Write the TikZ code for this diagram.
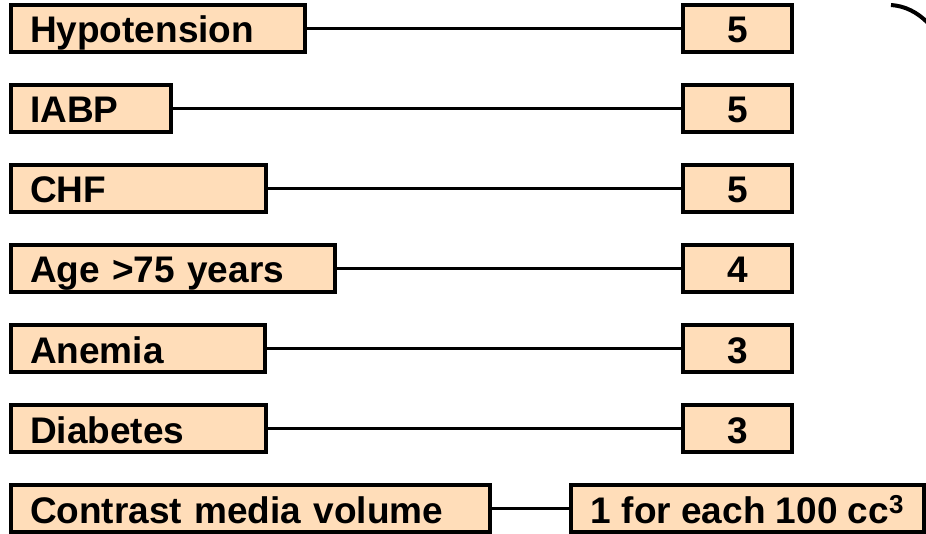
\documentclass[tikz,border=0pt]{standalone}
\usepackage{fontspec}
\setmainfont{Liberation Sans}
\usetikzlibrary{positioning}
\definecolor{npeach}{HTML}{FFDDB9}

\tikzset{
  factor/.style={draw=black, line width=4pt, fill=npeach, anchor=north west,
    inner xsep=19pt, inner ysep=0pt, minimum height=47pt, align=left,
    text height=29pt, text depth=0pt, font=\bfseries\fontsize{37}{40}\selectfont},
  score/.style={factor, align=center, inner xsep=0pt, minimum width=109pt},
  link/.style={line width=3.5pt}
}

\begin{document}
\begin{tikzpicture}[x=1pt,y=-1pt]
 \useasboundingbox (0,0) rectangle (926,534);
 % risk factors and their points
 \foreach \lab/\w/\pts [count=\i from 0] in {Hypotension/256/5, IABP/122/5, CHF/217/5,
   Age >75 years/286/4, Anemia/216/3, Diabetes/217/3}{
   \node[factor, text width=\w pt] (f\i) at (9,3+80*\i) {\lab};
   \node[score] (s\i) at (681,3+80*\i) {\pts};
   \draw[link] (f\i) -- (s\i);
 }
 \node[factor, text width=441pt] (f6) at (9,483) {Contrast media volume};
 \node[score, minimum width=353pt] (s6) at (569,483) {1 for each 100 cc\textsuperscript{3}};
 \draw[link] (f6) -- (s6);
 % edge of the bracket on the right
 \draw[line width=4pt] (891,5) .. controls (905,6) and (917,12) .. (928,23);
\end{tikzpicture}
\end{document}
